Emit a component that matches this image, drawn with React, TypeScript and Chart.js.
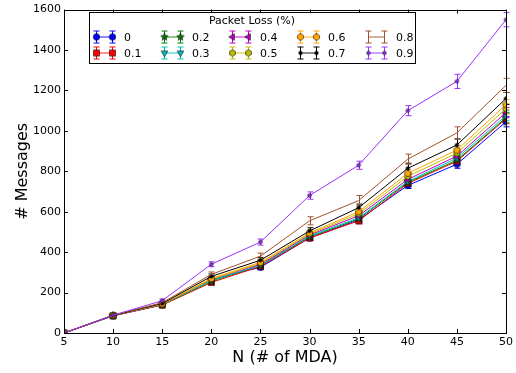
import React, { useEffect, useRef } from "react";
import { Chart, registerables } from "chart.js";
Chart.register(...registerables);

const nValues = [5, 10, 15, 20, 25, 30, 35, 40, 45, 50];
const lossLabels = ["0", "0.1", "0.2", "0.3", "0.4", "0.5", "0.6", "0.7", "0.8", "0.9"];

const msgs0 = [0, 85, 140, 265, 325, 470, 560, 730, 835, 1045];
const msgs1 = [0, 85, 138, 250, 330, 470, 555, 740, 850, 1060];
const msgs2 = [0, 86, 140, 255, 335, 475, 565, 745, 855, 1065];
const msgs3 = [0, 86, 141, 260, 335, 480, 570, 750, 865, 1075];
const msgs4 = [0, 86, 142, 265, 340, 485, 580, 760, 875, 1090];
const msgs5 = [0, 87, 143, 265, 345, 490, 590, 775, 890, 1110];
const msgs6 = [0, 87, 144, 270, 350, 495, 600, 790, 905, 1130];
const msgs7 = [0, 87, 146, 280, 360, 505, 620, 815, 930, 1160];
const msgs8 = [0, 88, 150, 290, 380, 555, 655, 860, 990, 1225];
const msgs9 = [0, 88, 160, 340, 450, 680, 830, 1100, 1245, 1550];

const err0 = [0, 5, 6, 10, 12, 12, 15, 15, 20, 25];
const err1 = [0, 5, 6, 10, 12, 12, 15, 15, 20, 25];
const err2 = [0, 5, 6, 10, 12, 12, 15, 15, 20, 25];
const err3 = [0, 5, 6, 10, 12, 12, 15, 15, 20, 25];
const err4 = [0, 5, 6, 10, 12, 12, 15, 15, 20, 25];
const err5 = [0, 5, 6, 10, 12, 14, 15, 18, 20, 25];
const err6 = [0, 5, 6, 10, 12, 14, 15, 18, 22, 25];
const err7 = [0, 5, 6, 12, 14, 16, 18, 25, 30, 30];
const err8 = [0, 5, 8, 12, 15, 20, 25, 25, 30, 35];
const err9 = [0, 5, 8, 12, 15, 18, 20, 25, 35, 35];

const seriesValues = [msgs0, msgs1, msgs2, msgs3, msgs4, msgs5, msgs6, msgs7, msgs8, msgs9];
const seriesErrors = [err0, err1, err2, err3, err4, err5, err6, err7, err8, err9];
const colors = ["#0000ff", "#ff0000", "#008000", "#00bfbf", "#bf00bf", "#bfbf00", "#ffa500", "#000000", "#a0522d", "#9b30ff"];
const shapes = ["circle", "square", "star", "tridown", "trileft", "hexagon", "octagon", "dot", "none", "dot"];

const xTicks = [5, 10, 15, 20, 25, 30, 35, 40, 45, 50];
const yTicks = [0, 200, 400, 600, 800, 1000, 1200, 1400, 1600];

const FONT = "'DejaVu Sans', sans-serif";

function makeMarker(shape: string, fill: string): HTMLCanvasElement {
  const s = 11;
  const c = document.createElement("canvas");
  c.width = s;
  c.height = s;
  const ctx = c.getContext("2d")!;
  const cx = s / 2, cy = s / 2;
  ctx.fillStyle = fill;
  ctx.strokeStyle = "#000";
  ctx.lineWidth = 0.6;
  ctx.beginPath();
  const poly = (n: number, r: number, rot: number) => {
    for (let i = 0; i < n; i++) {
      const a = rot + (i * 2 * Math.PI) / n;
      const px = cx + r * Math.cos(a), py = cy + r * Math.sin(a);
      if (i === 0) ctx.moveTo(px, py); else ctx.lineTo(px, py);
    }
    ctx.closePath();
  };
  if (shape === "circle") ctx.arc(cx, cy, 3.2, 0, Math.PI * 2);
  else if (shape === "square") ctx.rect(cx - 3, cy - 3, 6, 6);
  else if (shape === "star") {
    for (let i = 0; i < 10; i++) {
      const r = i % 2 === 0 ? 4 : 1.7;
      const a = -Math.PI / 2 + (i * Math.PI) / 5;
      const px = cx + r * Math.cos(a), py = cy + r * Math.sin(a);
      if (i === 0) ctx.moveTo(px, py); else ctx.lineTo(px, py);
    }
    ctx.closePath();
  } else if (shape === "tridown") poly(3, 3.8, Math.PI / 2);
  else if (shape === "trileft") poly(3, 3.8, Math.PI);
  else if (shape === "hexagon") poly(6, 3.3, -Math.PI / 2);
  else if (shape === "octagon") poly(8, 3.3, Math.PI / 8);
  else if (shape === "dot") ctx.arc(cx, cy, 1.8, 0, Math.PI * 2);
  else return c;
  ctx.fill();
  ctx.stroke();
  return c;
}

function withAlpha(hex: string, a: number) {
  const r = parseInt(hex.slice(1, 3), 16), g = parseInt(hex.slice(3, 5), 16), b = parseInt(hex.slice(5, 7), 16);
  return `rgba(${r},${g},${b},${a})`;
}

export default function App() {
  const ref = useRef<HTMLCanvasElement>(null);
  useEffect(() => {
    const markers = shapes.map((s, i) => makeMarker(s, colors[i]));
    const datasets = seriesValues.map((vals, i) => ({
      label: lossLabels[i],
      data: vals.map((v, j) => ({ x: nValues[j], y: v })),
      borderColor: colors[i],
      backgroundColor: colors[i],
      borderWidth: 1,
      pointStyle: shapes[i] === "none" ? false : (markers[i] as any),
      pointRadius: 4,
      order: 10 - i,
      tension: 0,
    }));

    const errorPlugin = {
      id: "errs",
      beforeDatasetsDraw(chart: any) {
        const ctx = chart.ctx;
        const xs = chart.scales.x, ys = chart.scales.y;
        ctx.save();
        seriesValues.forEach((vals, i) => {
          ctx.strokeStyle = colors[i];
          ctx.lineWidth = 1;
          vals.forEach((v, j) => {
            const e = seriesErrors[i][j];
            if (e <= 0) return;
            const px = Math.round(xs.getPixelForValue(nValues[j])) + 0.5;
            const y1 = ys.getPixelForValue(v - e), y2 = ys.getPixelForValue(v + e);
            ctx.beginPath();
            ctx.moveTo(px, y1); ctx.lineTo(px, y2);
            ctx.moveTo(px - 3, y1); ctx.lineTo(px + 3, y1);
            ctx.moveTo(px - 3, y2); ctx.lineTo(px + 3, y2);
            ctx.stroke();
          });
        });
        ctx.restore();
      },
      afterDraw(chart: any) {
        const ctx = chart.ctx;
        const a = chart.chartArea;
        const xs = chart.scales.x, ys = chart.scales.y;
        ctx.save();
        ctx.strokeStyle = "#000";
        ctx.lineWidth = 1;
        ctx.strokeRect(Math.round(a.left) + 0.5, Math.round(a.top) + 0.5, Math.round(a.right - a.left), Math.round(a.bottom - a.top));
        ctx.beginPath();
        xTicks.forEach((t) => {
          const px = Math.round(xs.getPixelForValue(t)) + 0.5;
          ctx.moveTo(px, a.bottom); ctx.lineTo(px, a.bottom - 4);
          ctx.moveTo(px, a.top); ctx.lineTo(px, a.top + 4);
        });
        yTicks.forEach((t) => {
          const py = Math.round(ys.getPixelForValue(t)) + 0.5;
          ctx.moveTo(a.left, py); ctx.lineTo(a.left + 4, py);
          ctx.moveTo(a.right, py); ctx.lineTo(a.right - 4, py);
        });
        ctx.stroke();

        // legend
        const bx = 89, by = 12, bw = 326, bh = 51;
        ctx.fillStyle = "#fff";
        ctx.fillRect(bx, by, bw, bh);
        ctx.strokeRect(bx + 0.5, by + 0.5, bw, bh);
        ctx.fillStyle = "#000";
        ctx.font = `11px ${FONT}`;
        ctx.textAlign = "center";
        ctx.textBaseline = "middle";
        ctx.fillText("Packet Loss (%)", 252, 21);
        ctx.textAlign = "left";
        ctx.font = `11px ${FONT}`;
        lossLabels.forEach((lab, i) => {
          const col = Math.floor(i / 2), row = i % 2;
          const x0 = 96 + col * 68, x1 = x0 + 16, y = row === 0 ? 37 : 53;
          ctx.strokeStyle = withAlpha(colors[i], 0.6);
          ctx.lineWidth = 1.5;
          ctx.beginPath(); ctx.moveTo(x0, y); ctx.lineTo(x1, y); ctx.stroke();
          ctx.strokeStyle = colors[i];
          ctx.lineWidth = 1;
          [x0, x1].forEach((px) => {
            const p = Math.round(px) + 0.5;
            ctx.beginPath();
            ctx.moveTo(p, y - 6); ctx.lineTo(p, y + 6);
            ctx.moveTo(p - 3, y - 6); ctx.lineTo(p + 3, y - 6);
            ctx.moveTo(p - 3, y + 6); ctx.lineTo(p + 3, y + 6);
            ctx.stroke();
            if (shapes[i] !== "none") ctx.drawImage(markers[i], Math.round(px) - 5, y - 5.5);
          });
          ctx.fillStyle = "#000";
          ctx.fillText(lab, x0 + 28, y + 1);
        });
        ctx.restore();
      },
    };

    const chart = new Chart(ref.current!, {
      type: "line",
      data: { datasets: datasets as any },
      options: {
        animation: false,
        responsive: false,
        devicePixelRatio: 1,
        layout: { padding: { top: 6, right: 10, left: 9, bottom: 2 } },
        plugins: { legend: { display: false }, tooltip: { enabled: false } },
        scales: {
          x: {
            type: "linear",
            min: 5,
            max: 50,
            afterFit: (s: any) => { s.height = 38; },
            afterBuildTicks: (s: any) => { s.ticks = xTicks.map((v) => ({ value: v })); },
            grid: { display: false, drawTicks: false },
            border: { display: false },
            ticks: { color: "#000", padding: 3, font: { family: FONT, size: 11 }, callback: (v: any) => String(v) },
            title: { display: true, text: "N (# of MDA)", color: "#000", font: { family: FONT, size: 16 }, padding: { top: 0, bottom: 4 } },
          },
          y: {
            type: "linear",
            min: 0,
            max: 1600,
            afterFit: (s: any) => { s.width = 55; },
            afterBuildTicks: (s: any) => { s.ticks = yTicks.map((v) => ({ value: v })); },
            grid: { display: false, drawTicks: false },
            border: { display: false },
            ticks: { color: "#000", padding: 3, font: { family: FONT, size: 11 }, callback: (v: any) => String(v) },
            title: { display: true, text: "# Messages", color: "#000", font: { family: FONT, size: 16 }, padding: { top: 4, bottom: 0 } },
          },
        },
      },
      plugins: [errorPlugin as any],
    });
    return () => chart.destroy();
  }, []);
  return (
    <div style={{ position: "fixed", left: 0, top: 0, width: 516, height: 373, background: "#fff" }}>
      <canvas ref={ref} width={516} height={373} style={{ display: "block" }} />
    </div>
  );
}
